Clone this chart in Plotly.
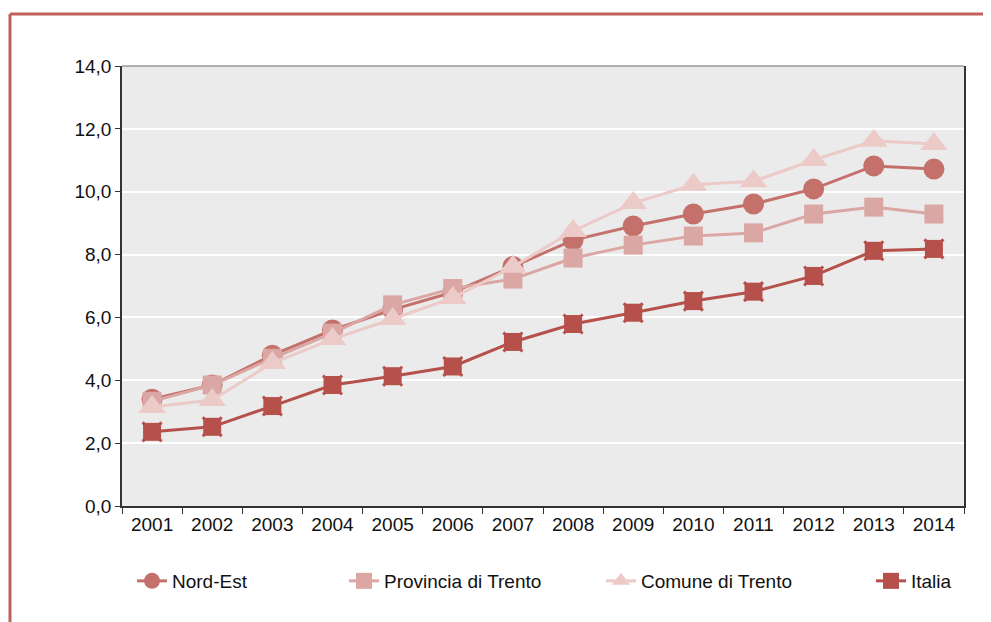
import plotly.graph_objects as go

years = ["2001", "2002", "2003", "2004", "2005", "2006", "2007",
         "2008", "2009", "2010", "2011", "2012", "2013", "2014"]
nord_est = [3.40, 3.85, 4.80, 5.60, 6.25, 6.80, 7.62, 8.46, 8.91, 9.29, 9.61, 10.09, 10.82, 10.72]
provincia = [3.33, 3.85, 4.70, 5.50, 6.40, 6.92, 7.22, 7.89, 8.30, 8.59, 8.69, 9.29, 9.51, 9.29]
comune = [3.15, 3.37, 4.55, 5.31, 5.95, 6.62, 7.61, 8.75, 9.64, 10.22, 10.33, 11.01, 11.62, 11.52]
italia = [2.36, 2.52, 3.18, 3.85, 4.13, 4.44, 5.22, 5.79, 6.15, 6.52, 6.82, 7.32, 8.12, 8.18]
y_ticks = [0, 2, 4, 6, 8, 10, 12, 14]

FONT = "Liberation Sans, Arial, sans-serif"
C_NE = "#c4716c"
C_PR = "#dba7a5"
C_CO = "#ebcac8"
C_IT = "#b5504b"

fig = go.Figure()
fig.add_trace(go.Scatter(x=years, y=nord_est, name="Nord-Est", mode="lines+markers",
                         line=dict(color=C_NE, width=3),
                         marker=dict(symbol="circle", size=21, color=C_NE),
                         legend="legend"))
fig.add_trace(go.Scatter(x=years, y=provincia, name="Provincia di Trento", mode="lines+markers",
                         line=dict(color=C_PR, width=3),
                         marker=dict(symbol="square", size=19, color=C_PR),
                         legend="legend2"))
fig.add_trace(go.Scatter(x=years, y=comune, name="Comune di Trento", mode="lines+markers",
                         line=dict(color=C_CO, width=3),
                         marker=dict(symbol="triangle-up", size=24, color=C_CO),
                         legend="legend3"))
fig.add_trace(go.Scatter(x=years, y=italia, name="Italia", mode="markers",
                         marker=dict(symbol="x-thin", size=19, color=C_IT,
                                     line=dict(color=C_IT, width=3)),
                         showlegend=False, hoverinfo="skip"))
fig.add_trace(go.Scatter(x=years, y=italia, name="Italia", mode="lines+markers",
                         line=dict(color=C_IT, width=3),
                         marker=dict(symbol="square", size=18, color=C_IT),
                         legend="legend4"))

# page body has an 8px offset; work in window pixels and convert
OFF = 8
FW, FH = 991 - OFF, 622 - OFF
L, R, T, B = 122, 964, 66, 506          # plot area in window pixels
W = R - L
H = B - T

def px(xp):
    return (xp - L) / W

def py(yp):
    return (B - yp) / H

leg_common = dict(orientation="h", yanchor="middle", xanchor="left",
                  y=py(581), bgcolor="rgba(0,0,0,0)",
                  font=dict(family=FONT, size=19, color="#111111"))

fig.update_layout(
    width=FW, height=FH,
    margin=dict(l=L - OFF, r=991 - R, t=T - OFF, b=622 - B),
    paper_bgcolor="white",
    plot_bgcolor="#ebebeb",
    separators=",.",
    font=dict(family=FONT, size=19, color="#111111"),
    legend=dict(x=px(132), **leg_common),
    legend2=dict(x=px(344), **leg_common),
    legend3=dict(x=px(601), **leg_common),
    legend4=dict(x=px(871), **leg_common),
    xaxis=dict(type="category", tickson="boundaries", ticks="outside", ticklen=6,
               tickcolor="#333333", showline=True, linecolor="#333333", linewidth=1.5,
               showgrid=False, range=[-0.5, 13.5],
               tickfont=dict(family=FONT, size=19, color="#111111")),
    yaxis=dict(range=[0, 14], tickvals=y_ticks, tickformat=".1f", ticks="outside",
               ticklen=5, tickcolor="#333333", showline=True, mirror=True,
               linecolor="#333333", linewidth=1.5, showgrid=True, gridcolor="white",
               gridwidth=1.5, zeroline=False,
               tickfont=dict(family=FONT, size=19, color="#111111")),
    shapes=[
        dict(type="line", xref="paper", yref="paper", x0=0, x1=1, y0=1, y1=1,
             line=dict(color="#9a9a9a", width=1.5)),
        dict(type="line", xref="paper", yref="paper", x0=px(10), x1=px(1000),
             y0=py(14), y1=py(14), line=dict(color="#c0605c", width=3)),
        dict(type="line", xref="paper", yref="paper", x0=px(10), x1=px(10),
             y0=py(14), y1=py(630), line=dict(color="#c0605c", width=3)),
    ],
)

fig.write_html("out.html")
